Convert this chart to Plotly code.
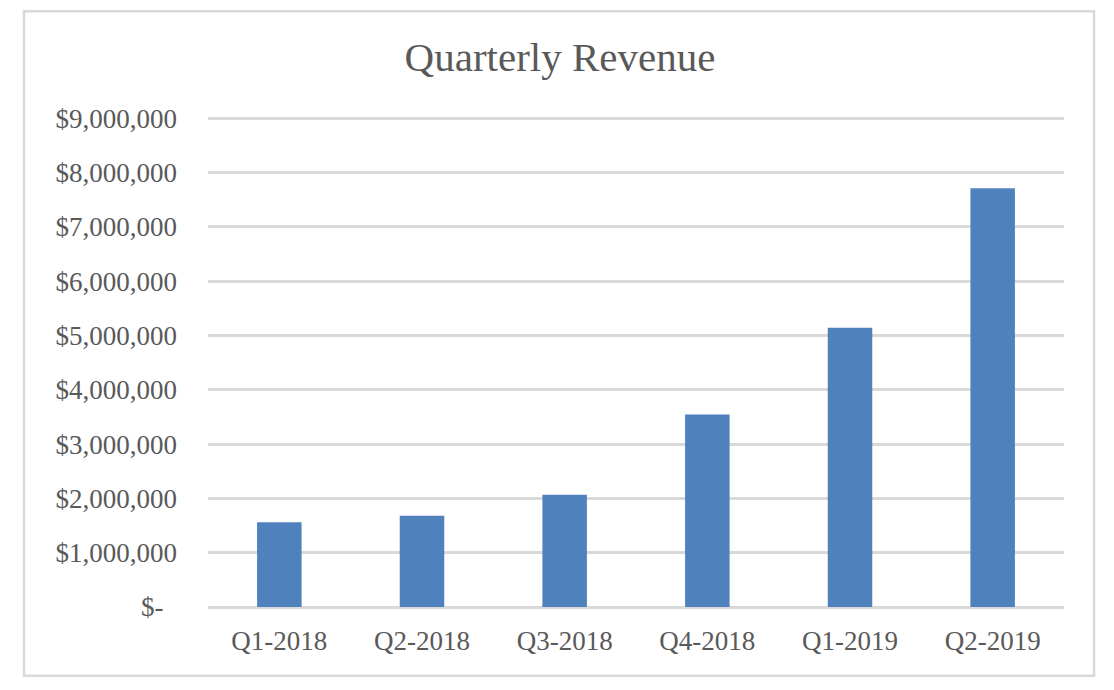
import plotly.graph_objects as go

# quarterly revenue
quarters = ['Q1-2018', 'Q2-2018', 'Q3-2018', 'Q4-2018', 'Q1-2019', 'Q2-2019']
revenue = [1560000, 1680000, 2065000, 3545000, 5140000, 7710000]
yticks = [0, 1000000, 2000000, 3000000, 4000000, 5000000, 6000000, 7000000, 8000000, 9000000]
# accounting style: zero shows as "$-" with a bit of padding on the right
ylabels = ['$-\u00a0\u00a0' if v == 0 else '${:,.0f}'.format(v) for v in yticks]
ymax = 9040000  # a bit above 9M so the top gridline gets drawn

# the page has an 8px body margin, so work in screen px and shift back
off = 8
W, H = 1114 - off, 690 - off
px_left, px_right = 208, 1064
px_zero, px_9m = 607.3, 118.0
ph = (px_zero - px_9m) * ymax / 9000000
L = px_left - off
R = W - (px_right - off)
B = H - (px_zero - off)
T = H - B - ph
pw = W - L - R

font_name = 'Liberation Serif'
txt = '#595959'
grid = '#D9D9D9'

bars = go.Bar(x=quarters, y=revenue, marker=dict(color='#4F81BD', line=dict(width=0)),
              hoverinfo='x+y')

fig = go.Figure(data=[bars])

# chart-area frame like the Excel chart border
bx0, bx1, by0, by1 = 24, 1094, 11, 676
fig.add_shape(type='rect', xref='paper', yref='paper',
              x0=(bx0 - off - L) / pw, x1=(bx1 - off - L) / pw,
              y0=(H - B - (by1 - off)) / ph, y1=(H - B - (by0 - off)) / ph,
              line=dict(color=grid, width=2.5), fillcolor='rgba(0,0,0,0)', layer='below')

fig.update_layout(
    width=W, height=H,
    margin=dict(l=L, r=R, t=T, b=B, pad=0),
    paper_bgcolor='white', plot_bgcolor='white',
    font=dict(family=font_name, color=txt),
    title=dict(text='Quarterly Revenue', x=(560 - off - L) / pw, xref='paper', xanchor='center',
               y=1 - (57.5 - off - 1) / H, yanchor='middle',
               font=dict(family=font_name, size=41, color=txt)),
    bargap=0.688,
    showlegend=False,
)
fig.update_xaxes(showgrid=False, showline=False, zeroline=False, ticks='',
                 tickfont=dict(size=27, color=txt), ticklabelstandoff=15)
fig.update_yaxes(range=[0, ymax], tickvals=yticks, ticktext=ylabels,
                 showgrid=True, gridcolor=grid, gridwidth=2.5,
                 zeroline=True, zerolinecolor=grid, zerolinewidth=2.5,
                 showline=False, ticks='', tickfont=dict(size=27, color=txt),
                 ticklabelstandoff=30)

fig.write_html("out.html")
